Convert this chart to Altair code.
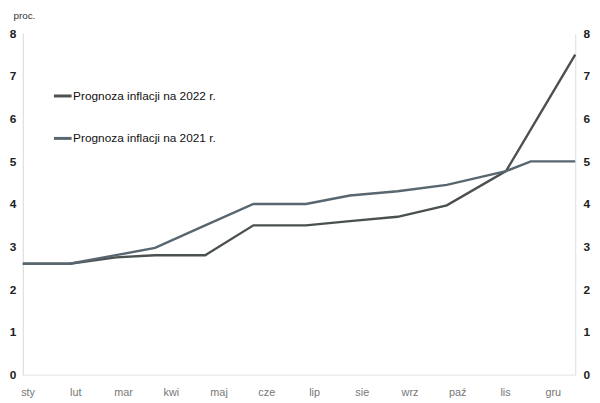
import json
import altair as alt
import pandas as pd

months = ["sty", "lut", "mar", "kwi", "maj", "cze", "lip", "sie", "wrz", "paź", "lis", "gru"]
x_pos = [-0.1, 0.88, 1.85, 2.67, 3.72, 4.73, 5.83, 6.75, 7.75, 8.78, 10.02, 10.54, 11.47]
inf_2021 = [2.6, 2.6, 2.8, 2.97, 3.5, 4.0, 4.0, 4.2, 4.3, 4.45, 4.77, 5.0, 5.0]
inf_2022 = [2.6, 2.6, 2.75, 2.8, 2.8, 3.5, 3.5, 3.6, 3.7, 3.97, 4.77, 5.75, 7.5]
series_names = ["Prognoza inflacji na 2022 r.", "Prognoza inflacji na 2021 r."]
series_colors = ["#4b5050", "#58666f"]
y_ticks = [0, 1, 2, 3, 4, 5, 6, 7, 8]
unit_label = "proc."

rows = []
for name, vals in zip(series_names, [inf_2022, inf_2021]):
    for x, v in zip(x_pos, vals):
        rows.append({"seria": name, "x": x, "v": v})
df = pd.DataFrame(rows)

month_expr = json.dumps(months, ensure_ascii=False) + "[round(datum.value)]"
FONT = "Liberation Sans"


def x_enc():
    return alt.X(
        "x:Q",
        scale=alt.Scale(domain=[-0.1, 11.47], nice=False, zero=False),
        axis=alt.Axis(
            values=list(range(len(months))),
            labelExpr=month_expr,
            title=None,
            grid=False,
            ticks=False,
            domainColor="#e2e2e2",
            labelColor="#777777",
            labelFontSize=11,
            labelFont=FONT,
            labelPadding=12,
        ),
    )


lines = alt.Chart(df).mark_line(strokeWidth=2.4).encode(
    x=x_enc(),
    y=alt.Y(
        "v:Q",
        scale=alt.Scale(domain=[0, 8], nice=False),
        axis=alt.Axis(
            values=y_ticks,
            orient="left",
            grid=False,
            ticks=False,
            domainColor="#d8d8d8",
            labelColor="#222222",
            labelFontSize=12,
            labelFontWeight="bold",
            labelFont=FONT,
            labelPadding=7,
            title=unit_label,
            titleAngle=0,
            titleAlign="left",
            titleBaseline="alphabetic",
            titleX=-10,
            titleY=-15,
            titleFontSize=10,
            titleFontWeight="normal",
            titleFont=FONT,
            titleColor="#333333",
        ),
    ),
    color=alt.Color(
        "seria:N",
        scale=alt.Scale(domain=series_names, range=series_colors),
        sort=series_names,
        legend=alt.Legend(
            title=None,
            orient="none",
            legendX=30,
            legendY=53,
            symbolType="stroke",
            symbolStrokeWidth=3,
            symbolSize=320,
            rowPadding=26,
            labelFontSize=12,
            labelFont=FONT,
            labelColor="#111111",
            labelOffset=0,
        ),
    ),
    detail="seria:N",
)

right_axis = alt.Chart(df).mark_line(opacity=0).encode(
    x=x_enc(),
    y=alt.Y(
        "v:Q",
        scale=alt.Scale(domain=[0, 8], nice=False),
        axis=alt.Axis(
            values=y_ticks,
            orient="right",
            grid=False,
            ticks=False,
            domainColor="#e0e0e0",
            labelColor="#222222",
            labelFontSize=12,
            labelFontWeight="bold",
            labelFont=FONT,
            labelPadding=8,
            title=None,
        ),
    ),
    detail="seria:N",
)

chart = (
    alt.layer(lines, right_axis)
    .resolve_scale(y="independent")
    .properties(
        width=560,
        height=346,
        autosize=alt.AutoSizeParams(type="none"),
        padding={"left": 15, "top": 23, "right": 17, "bottom": 23},
        background="white",
    )
    .configure_view(stroke=None)
)

chart.save("out.html", embed_options={"renderer": "svg", "actions": False})
